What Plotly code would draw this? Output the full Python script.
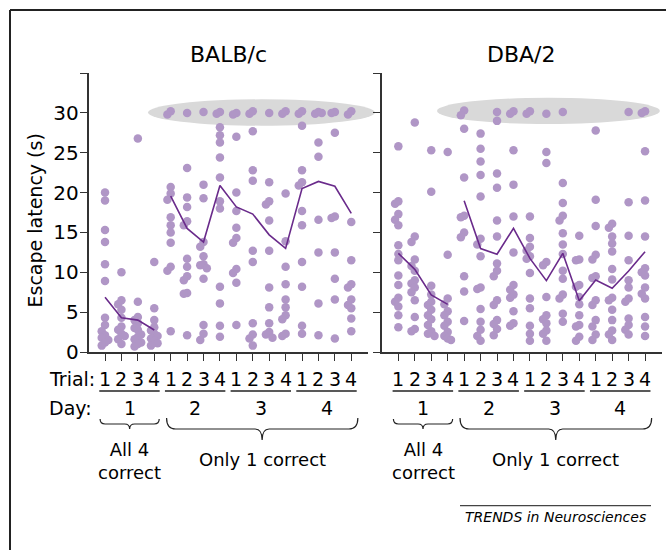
import plotly.graph_objects as go

W, H = 666, 550

# ---------------- data (escape latency, s) ----------------
trial_labels = ["1", "2", "3", "4"] * 4
day_labels = ["1", "2", "3", "4"]
strain_titles = ["BALB/c", "DBA/2"]

balb_day1 = [
    [20.0, 19.0, 15.3, 13.8, 11.0, 8.9, 4.3, 3.4, 2.6, 2.1, 1.8, 1.5, 1.2, 0.8],
    [10.0, 6.5, 6.0, 5.3, 4.3, 3.2, 2.8, 2.3, 2.0, 1.6, 1.0],
    [26.8, 6.3, 4.4, 4.0, 3.6, 3.0, 2.8, 2.2, 1.9, 1.6, 1.2, 1.0, 0.7],
    [11.3, 5.5, 4.0, 3.1, 2.7, 2.3, 2.0, 1.7, 1.4, 1.1, 0.8],
]
balb_day2 = [
    [30.2, 29.8, 20.7, 19.9, 19.1, 16.9, 15.9, 15.0, 13.7, 10.7, 10.2, 2.6],
    [30.0, 23.1, 19.4, 18.2, 16.4, 15.9, 11.7, 10.7, 9.5, 9.0, 7.4, 7.3, 2.1],
    [30.1, 21.0, 19.3, 13.8, 13.2, 12.0, 11.0, 10.9, 10.5, 9.2, 3.4, 2.3, 1.5],
    [30.1, 29.9, 28.2, 27.2, 26.3, 24.4, 21.9, 18.9, 18.0, 8.2, 6.1, 3.3, 1.9],
]
balb_day3 = [
    [30.0, 29.8, 27.0, 20.0, 17.7, 15.6, 14.3, 13.7, 10.4, 9.9, 8.7, 3.4],
    [30.2, 29.9, 27.7, 22.8, 21.5, 12.7, 11.3, 3.6, 2.2, 1.7, 0.8],
    [30.0, 21.3, 18.9, 18.5, 16.5, 12.7, 8.1, 5.6, 3.6, 2.5, 2.2, 1.8],
    [30.2, 29.9, 19.9, 13.9, 10.7, 8.5, 6.6, 5.6, 4.6, 4.1, 2.3, 2.0],
]
balb_day4 = [
    [30.2, 29.9, 28.4, 22.8, 21.3, 20.9, 17.7, 15.9, 11.3, 8.2, 3.3, 2.3],
    [30.1, 29.9, 30.0, 26.3, 24.5, 16.6, 12.5, 6.1, 2.1],
    [30.1, 30.0, 27.5, 17.0, 16.8, 12.5, 9.2, 6.6, 1.7],
    [30.2, 29.8, 16.3, 11.5, 8.5, 8.1, 6.6, 5.9, 5.5, 4.2, 2.6],
]
dba_day1 = [
    [25.8, 18.9, 18.6, 17.3, 16.6, 15.9, 13.4, 12.3, 11.5, 9.6, 8.4, 6.8, 6.3, 5.7, 4.6, 3.1],
    [28.8, 14.5, 13.8, 11.6, 10.8, 10.2, 9.0, 8.6, 8.1, 7.5, 6.5, 4.4, 2.9, 2.6],
    [25.3, 20.1, 8.3, 7.2, 6.3, 5.9, 5.3, 4.6, 4.1, 3.4, 2.6, 2.3, 2.0],
    [25.1, 12.2, 6.7, 6.0, 5.1, 4.6, 3.8, 3.3, 2.5, 2.0, 1.7, 1.5],
]
dba_day2 = [
    [30.3, 29.7, 28.0, 21.9, 17.1, 16.9, 15.0, 14.4, 9.5, 7.6, 3.9],
    [27.4, 25.5, 23.9, 22.2, 19.5, 14.2, 13.5, 12.0, 8.1, 7.9, 5.4, 3.8, 2.8, 2.0, 1.4],
    [30.1, 29.0, 22.4, 20.6, 16.5, 14.5, 11.1, 10.2, 9.5, 6.5, 5.9, 4.0, 3.5, 2.9, 2.1],
    [30.2, 29.9, 25.3, 21.0, 17.0, 12.5, 8.4, 7.8, 7.2, 6.8, 5.1, 3.6, 3.3],
]
dba_day3 = [
    [30.2, 29.9, 17.0, 14.3, 13.2, 12.7, 12.0, 11.7, 9.9, 6.7, 5.5, 3.3, 2.3, 1.4],
    [29.9, 25.1, 23.7, 11.3, 10.9, 6.9, 4.6, 4.1, 3.6, 2.7, 2.3, 1.4],
    [30.1, 21.2, 18.7, 17.1, 16.5, 14.9, 13.5, 12.3, 10.2, 9.2, 7.2, 6.7, 4.8, 3.8],
    [14.6, 11.6, 11.5, 8.4, 8.2, 6.9, 6.0, 4.6, 3.4, 3.2, 1.9, 1.4],
]
dba_day4 = [
    [27.8, 19.1, 15.8, 12.2, 11.6, 9.5, 9.3, 6.5, 5.9, 4.0, 3.2, 2.2, 1.5],
    [16.1, 15.6, 14.5, 13.6, 12.6, 10.4, 9.1, 6.8, 6.5, 5.3, 4.0, 2.7, 2.2, 1.5],
    [30.1, 18.8, 14.6, 11.5, 9.0, 8.1, 6.7, 6.3, 4.2, 3.4, 2.8, 2.2],
    [30.2, 30.0, 25.2, 19.0, 14.5, 10.5, 10.0, 9.6, 8.1, 7.3, 6.7, 4.4, 3.2, 2.0],
]
balb_mean = [6.86, 4.3, 4.0, 2.76, 19.57, 15.5, 13.8, 20.9, 18.2, 17.3, 14.7, 13.0, 20.5, 21.4, 20.8, 17.4]
dba_mean = [12.38, 10.37, 7.15, 5.98, 18.99, 12.97, 12.26, 15.52, 11.75, 8.95, 12.38, 6.44, 9.03, 7.99, 10.16, 12.59]

# ---------------- styling / geometry ----------------
FONT = "DejaVu Sans"
DOT = "#b096c6"
LINE = "#6a2b8b"
AX = "#333333"
X_RANGE = [0, 17]
Y_RANGE = [0, 35]
DOMS = [(88.6 / W, 367.7 / W), (381.9 / W, 661.5 / W)]
YDOM = (1 - 352.0 / H, 1 - 73.05 / H)


def P(px, py):
    return px / W, 1 - py / H


def data_to_px(panel, xv, yv=None):
    d0, d1 = DOMS[panel]
    px = (d0 + (xv - X_RANGE[0]) / (X_RANGE[1] - X_RANGE[0]) * (d1 - d0)) * W
    if yv is None:
        return px
    py = (1 - (YDOM[0] + (yv - Y_RANGE[0]) / (Y_RANGE[1] - Y_RANGE[0]) * (YDOM[1] - YDOM[0]))) * H
    return px, py


def dodge(vals, dv=0.8, step=0.2):
    placed, offs = [], []
    for v in vals:
        for c in (0, -step, step, -2 * step, 2 * step):
            if all(abs(v - pv) >= dv or abs(c - pc) > 1e-9 for pv, pc in placed):
                break
        placed.append((v, c))
        offs.append(c)
    return offs


fig = go.Figure()
strains = [
    (balb_day1 + balb_day2 + balb_day3 + balb_day4, balb_mean),
    (dba_day1 + dba_day2 + dba_day3 + dba_day4, dba_mean),
]
for k, (cols, means) in enumerate(strains):
    xa = "x" if k == 0 else "x2"
    ya = "y" if k == 0 else "y2"
    xs, ys = [], []
    for t, vals in enumerate(cols, start=1):
        offs = dodge(vals)
        for v, o in zip(vals, offs):
            xs.append(t + o)
            ys.append(v)
    fig.add_trace(go.Scatter(x=xs, y=ys, mode="markers", xaxis=xa, yaxis=ya,
                             marker=dict(size=8.5, color=DOT, line=dict(width=0)),
                             showlegend=False, hoverinfo="skip"))
    fig.add_trace(go.Scatter(x=[1, 2, 3, 4], y=means[:4], mode="lines", xaxis=xa, yaxis=ya,
                             line=dict(color=LINE, width=1.6), showlegend=False))
    fig.add_trace(go.Scatter(x=list(range(5, 17)), y=means[4:], mode="lines", xaxis=xa, yaxis=ya,
                             line=dict(color=LINE, width=1.6), showlegend=False))

axis_common = dict(showline=True, linecolor=AX, linewidth=1.6, ticks="outside",
                   tickcolor=AX, tickwidth=1.4, ticklen=7, showgrid=False,
                   zeroline=False, fixedrange=True, automargin=False)
yt = [0, 5, 10, 15, 20, 25, 30, 35]
ytt = ["0", "5", "10", "15", "20", "25", "30", ""]
fig.update_layout(
    template="none",
    width=W, height=H, autosize=False,
    margin=dict(l=0, r=0, t=0, b=0, pad=0, autoexpand=False),
    paper_bgcolor="white", plot_bgcolor="white",
    font=dict(family=FONT, size=18, color="black"),
    showlegend=False,
)
fig.update_layout(
    xaxis=dict(domain=DOMS[0], range=X_RANGE, tickvals=list(range(1, 17)), showticklabels=False,
               anchor="y", **axis_common),
    yaxis=dict(domain=YDOM, range=Y_RANGE, tickvals=yt, ticktext=ytt, anchor="x",
               ticklabelstandoff=-3,
               tickfont=dict(family=FONT, size=20, color="black"), **axis_common),
    xaxis2=dict(domain=DOMS[1], range=X_RANGE, tickvals=list(range(1, 17)), showticklabels=False,
                anchor="y2", **axis_common),
    yaxis2=dict(domain=YDOM, range=Y_RANGE, tickvals=yt, showticklabels=False, anchor="x2",
                **axis_common),
)

shapes = []
annots = []

# gray ellipses marking the 30 s ceiling
ell = [(3.62, 17.44, 28.4, 31.7), (3.35, 16.9, 28.6, 31.9)]
for k, (a, b, lo, hi) in enumerate(ell):
    x0, y1 = data_to_px(k, a, lo)
    x1, y0 = data_to_px(k, b, hi)
    X0, Y0 = P(x0, y0)
    X1, Y1 = P(x1, y1)
    shapes.append(dict(type="circle", xref="paper", yref="paper", x0=X0, x1=X1, y0=Y1, y1=Y0,
                       fillcolor="#d9d9d9", line=dict(width=0), layer="below"))

# titles
for k, title in enumerate(strain_titles):
    cx = data_to_px(k, 8.5)
    X, Y = P(cx, 55)
    annots.append(dict(text=title, x=X, y=Y, xref="paper", yref="paper", showarrow=False,
                       xanchor="center", yanchor="middle", font=dict(family=FONT, size=22)))

# y axis title
X, Y = P(35, 220.5)
annots.append(dict(text="Escape latency (s)", x=X, y=Y, xref="paper", yref="paper", textangle=-90,
                   showarrow=False, xanchor="center", yanchor="middle", font=dict(family=FONT, size=19)))

# trial / day rows, underlines and braces
for k in range(2):
    for t in range(1, 17):
        X, Y = P(data_to_px(k, t), 379.5)
        annots.append(dict(text=trial_labels[t - 1], x=X, y=Y, xref="paper", yref="paper",
                           showarrow=False, xanchor="center", yanchor="middle",
                           font=dict(family=FONT, size=19)))
    for d in range(4):
        a = data_to_px(k, 4 * d + 1 - 0.35)
        b = data_to_px(k, 4 * d + 4 + 0.33)
        X0, Y0 = P(a, 391)
        X1, _ = P(b, 391)
        shapes.append(dict(type="line", xref="paper", yref="paper", x0=X0, x1=X1, y0=Y0, y1=Y0,
                           line=dict(color="#222222", width=1.3)))
        X, Y = P(data_to_px(k, 4 * d + 2.5), 407.5)
        annots.append(dict(text=day_labels[d], x=X, y=Y, xref="paper", yref="paper",
                           showarrow=False, xanchor="center", yanchor="middle",
                           font=dict(family=FONT, size=19)))

    def brace(a, b, c, ytop, ymid, ytip, r, r2):
        x0, x1, xc = data_to_px(k, a), data_to_px(k, b), data_to_px(k, c)
        pts = [
            ("M", [(x0, ytop)]),
            ("Q", [(x0, ymid), (x0 + r, ymid)]),
            ("L", [(xc - r2, ymid)]),
            ("Q", [(xc, ymid), (xc, ytip)]),
            ("Q", [(xc, ymid), (xc + r2, ymid)]),
            ("L", [(x1 - r, ymid)]),
            ("Q", [(x1, ymid), (x1, ytop)]),
        ]
        s = ""
        for cmd, pp in pts:
            s += cmd + " " + " ".join("%.5f,%.5f" % P(px, py) for px, py in pp) + " "
        shapes.append(dict(type="path", xref="paper", yref="paper", path=s.strip(),
                           line=dict(color="#222222", width=1.2)))

    brace(0.7, 4.3, 2.5, 419, 424, 429, 5, 5)
    brace(4.75, 16.4, 10.57, 418, 429, 440, 9, 7)

    X, Y = P(data_to_px(k, 2.5), 460.5)
    annots.append(dict(text="All 4<br>correct", x=X, y=Y, xref="paper", yref="paper",
                       showarrow=False, xanchor="center", yanchor="middle", align="center",
                       font=dict(family=FONT, size=18)))
    X, Y = P(data_to_px(k, 10.57), 460)
    annots.append(dict(text="Only 1 correct", x=X, y=Y, xref="paper", yref="paper",
                       showarrow=False, xanchor="center", yanchor="middle",
                       font=dict(family=FONT, size=18)))

X, Y = P(47, 379.5)
annots.append(dict(text="Trial:", x=X, y=Y, xref="paper", yref="paper", showarrow=False,
                   xanchor="left", yanchor="middle", font=dict(family=FONT, size=19)))
X, Y = P(47, 407.5)
annots.append(dict(text="Day:", x=X, y=Y, xref="paper", yref="paper", showarrow=False,
                   xanchor="left", yanchor="middle", font=dict(family=FONT, size=19)))

# footer
X0, Y0 = P(460, 505.7)
X1, _ = P(651, 505.7)
shapes.append(dict(type="line", xref="paper", yref="paper", x0=X0, x1=X1, y0=Y0, y1=Y0,
                   line=dict(color="#444444", width=1.3)))
X, Y = P(555.5, 517)
annots.append(dict(text="<i>TRENDS in Neurosciences</i>", x=X, y=Y, xref="paper", yref="paper",
                   showarrow=False, xanchor="center", yanchor="middle",
                   font=dict(family=FONT, size=14)))

# frame (top and left edges)
for (a, b, c, d) in [(10, 10, 666, 10), (10, 10, 10, 550)]:
    X0, Y0 = P(a, b)
    X1, Y1 = P(c, d)
    shapes.append(dict(type="line", xref="paper", yref="paper", x0=X0, x1=X1, y0=Y0, y1=Y1,
                       line=dict(color="#222222", width=2)))

fig.update_layout(shapes=shapes, annotations=annots)
fig.write_html("out.html", config={"displayModeBar": False},
               post_script="document.body.style.margin='0';document.body.style.padding='0';")
